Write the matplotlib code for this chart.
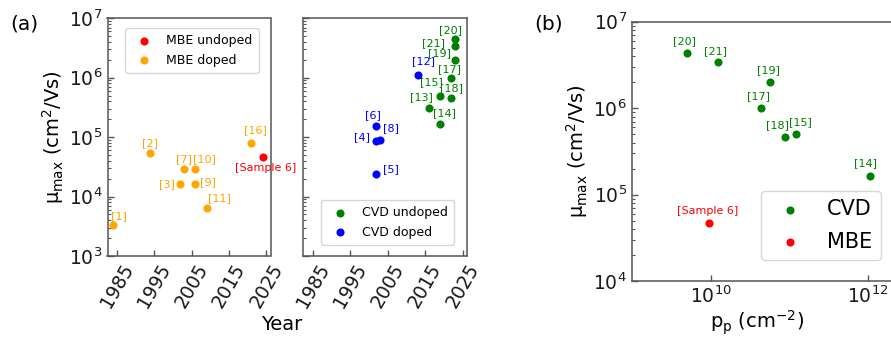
import matplotlib
matplotlib.use("Agg")
import matplotlib.pyplot as plt
from matplotlib.ticker import LogLocator, NullLocator, NullFormatter

# ---- data -------------------------------------------------------------
mbe_doped_refs = ["[1]", "[2]", "[3]", "[7]", "[10]", "[9]", "[11]", "[16]"]
mbe_doped_year = [1984, 1994, 2002, 2003, 2006, 2006, 2009, 2021]
mbe_doped_mu = [3.3e3, 5.5e4, 1.6e4, 2.9e4, 2.95e4, 1.6e4, 6.4e3, 8.1e4]

sample_label = "[Sample 6]"
sample_year = [2024]
sample_mu = [4.7e4]
sample_pp = [9.5e9]

cvd_doped_refs = ["[4]", "[5]", "[6]", "[8]", "[12]"]
cvd_doped_year = [2002, 2002, 2002, 2003, 2013]
cvd_doped_mu = [8.7e4, 2.4e4, 1.54e5, 9.1e4, 1.1e6]

cvd_undoped_refs = ["[13]", "[14]", "[15]", "[17]", "[18]", "[19]", "[20]", "[21]"]
cvd_undoped_year = [2016, 2019, 2019, 2022, 2022, 2023, 2023, 2023]
cvd_undoped_mu = [3.05e5, 1.64e5, 5.0e5, 1.0e6, 4.6e5, 2.0e6, 4.4e6, 3.4e6]

# hole density for the CVD references shown in panel (b)
pp_refs = ["[14]", "[15]", "[17]", "[18]", "[19]", "[20]", "[21]"]
pp_values = [1.05e12, 1.2e11, 4.3e10, 8.9e10, 5.7e10, 5.1e9, 1.25e10]

year_ticks = [1985, 1995, 2005, 2015, 2025]

# ---- styling ----------------------------------------------------------
C_ORANGE = "#FFA500"
C_RED = "#FF0000"
C_GREEN = "#008000"
C_BLUE = "#0000FF"
SPINE = "#555555"
TICK_FS = 13.5
LBL_FS = 8
MS = 34
YLABEL = "μ$_{\\rm max}$ (cm$^2$/Vs)"

plt.rcParams["font.family"] = ["DejaVu Sans"]
plt.rcParams["mathtext.fontset"] = "dejavusans"

# label offsets (points) of the reference tags, relative to their markers
off_a = {"[1]": (4, 6.5), "[2]": (0, 6.8), "[3]": (-9.5, 0), "[7]": (0, 7.2),
         "[10]": (6.5, 7.2), "[9]": (8.8, 1.4), "[11]": (9.6, 7), "[16]": (3, 9),
         sample_label: (2, -8)}
off_a2 = {"[4]": (-10, 2.5), "[5]": (10.5, 3.4), "[6]": (-2.6, 8), "[8]": (7.7, 8.6),
          "[12]": (4, 10), "[13]": (-5.3, 8), "[14]": (3.4, 8), "[15]": (-6, 9.4),
          "[17]": (-1.4, 6), "[18]": (0, 6.8), "[19]": (-11, 4.8), "[20]": (-3.1, 6.5),
          "[21]": (-15.8, 2.4)}
off_b = {"[14]": (-3, 9), "[15]": (3.6, 8.4), "[17]": (-1.4, 8.6), "[18]": (-6, 8.8),
         "[19]": (-1.4, 8.6), "[20]": (-2.4, 8.4), "[21]": (-2, 8.2),
         sample_label: (-1, 8.4)}

W, H = 891, 338
fig = plt.figure(figsize=(W / 100, H / 100), dpi=100)


def px_axes(left, top, right, bottom):
    return fig.add_axes([left / W, 1 - bottom / H, (right - left) / W, (bottom - top) / H])


def log_y(ax):
    ax.yaxis.set_major_locator(LogLocator(base=10, numticks=100))
    ax.yaxis.set_minor_locator(LogLocator(base=10, subs=[2, 3, 4, 5, 6, 7, 8, 9], numticks=100))
    ax.yaxis.set_minor_formatter(NullFormatter())


def style_axes(ax):
    for sp in ax.spines.values():
        sp.set_color(SPINE)
        sp.set_linewidth(1.1)
    ax.tick_params(which="both", direction="in", colors=SPINE, labelcolor="#1a1a1a",
                   labelsize=TICK_FS, top=False, right=False)
    ax.tick_params(which="major", length=4, width=1.0)
    ax.tick_params(which="minor", length=2.5, width=0.8)


def tag(ax, refs, xs, ys, offsets, color):
    for r, x, y in zip(refs, xs, ys):
        ax.annotate(r, (x, y), xytext=offsets[r], textcoords="offset points",
                    ha="center", va="center", fontsize=LBL_FS, color=color)


ax1 = px_axes(107.5, 18.3, 270.5, 256)
ax2 = px_axes(303.3, 18.3, 466.7, 256)
ax3 = px_axes(631.7, 21.7, 892, 281)

# ---- panel (a), MBE ---------------------------------------------------
ax1.scatter(sample_year, sample_mu, s=MS, color=C_RED, lw=0, zorder=3, label="MBE undoped")
ax1.scatter(mbe_doped_year, mbe_doped_mu, s=MS, color=C_ORANGE, lw=0, zorder=3, label="MBE doped")
tag(ax1, mbe_doped_refs, mbe_doped_year, mbe_doped_mu, off_a, C_ORANGE)
tag(ax1, [sample_label], sample_year, sample_mu, off_a, C_RED)

# ---- panel (a), CVD ---------------------------------------------------
ax2.scatter(cvd_undoped_year, cvd_undoped_mu, s=MS, color=C_GREEN, lw=0, zorder=3, label="CVD undoped")
ax2.scatter(cvd_doped_year, cvd_doped_mu, s=MS, color=C_BLUE, lw=0, zorder=3, label="CVD doped")
tag(ax2, cvd_undoped_refs, cvd_undoped_year, cvd_undoped_mu, off_a2, C_GREEN)
tag(ax2, cvd_doped_refs, cvd_doped_year, cvd_doped_mu, off_a2, C_BLUE)

for ax in (ax1, ax2):
    ax.set_yscale("log")
    ax.set_ylim(1e3, 1e7)
    ax.set_xlim(1982.5, 2026.1)
    ax.set_xticks(year_ticks)
    ax.set_xticklabels([str(t) for t in year_ticks], rotation=60)
    log_y(ax)
    style_axes(ax)

ax2.yaxis.set_major_formatter(NullFormatter())
ax1.set_ylabel(YLABEL, fontsize=14, labelpad=2)

ax1.legend(loc="upper left", bbox_to_anchor=(0.07, 0.985), fontsize=9,
           handletextpad=0.8, borderpad=0.5, framealpha=0.8)
ax2.legend(loc="lower left", bbox_to_anchor=(0.07, 0.02), fontsize=9,
           handletextpad=0.8, borderpad=0.5, framealpha=0.8)

fig.text(281.7 / W, 1 - 325 / H, "Year", ha="center", va="center", fontsize=14)

# ---- panel (b) --------------------------------------------------------
pp_mu = [cvd_undoped_mu[cvd_undoped_refs.index(r)] for r in pp_refs]
ax3.scatter(pp_values, pp_mu, s=MS, color=C_GREEN, lw=0, zorder=3, label="CVD")
ax3.scatter(sample_pp, sample_mu, s=MS, color=C_RED, lw=0, zorder=3, label="MBE")
tag(ax3, pp_refs, pp_values, pp_mu, off_b, C_GREEN)
tag(ax3, [sample_label], sample_pp, sample_mu, off_b, C_RED)

ax3.set_xscale("log")
ax3.set_yscale("log")
ax3.set_xlim(1e9, 2e12)
ax3.set_ylim(1e4, 1e7)
ax3.set_xticks([1e10, 1e12])
ax3.xaxis.set_minor_locator(NullLocator())
log_y(ax3)
style_axes(ax3)
ax3.set_ylabel(YLABEL, fontsize=14, labelpad=2)
ax3.set_xlabel("p$_{\\rm p}$ (cm$^{-2}$)", fontsize=14)
ax3.xaxis.set_label_coords(0.48, -0.105)
ax3.legend(loc="lower left", bbox_to_anchor=(0.455, 0.04), fontsize=15,
           handletextpad=0.8, borderpad=0.4, labelspacing=0.6, framealpha=0.8)

fig.text(24 / W, 1 - 24 / H, "(a)", ha="center", va="center", fontsize=14.5)
fig.text(549 / W, 1 - 24 / H, "(b)", ha="center", va="center", fontsize=14.5)

fig.savefig("out.png", dpi=100)
